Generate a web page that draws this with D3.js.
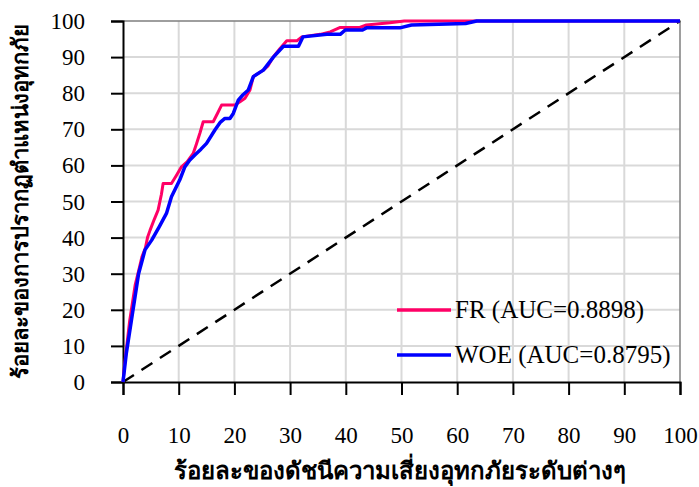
<!DOCTYPE html>
<html lang="th">
<head>
<meta charset="UTF-8">
<title>ROC</title>
<script src="https://d3js.org/d3.v7.min.js"></script>
<style>
  body { margin: 0; background: #fff; }
  svg { display: block; font-family: "Liberation Serif", "Times New Roman", serif; }
</style>
</head>
<body>
<svg id="chart" width="699" height="487"></svg>
<script>
// chart values
const ticks = [0, 10, 20, 30, 40, 50, 60, 70, 80, 90, 100];
const frX = [0, 0.3, 1.2, 2.2, 3.0, 3.4, 4.0, 4.4, 4.85, 5.6, 6.3, 6.9, 7.2, 8.7, 9.5, 10.5, 11.5, 12.6, 13.2, 13.8, 14.4, 16.2, 17.0, 17.7, 20.1, 21.0, 21.9, 22.8, 23.4, 25.2, 26, 27, 28.2, 29.4, 31.2, 32.1, 35.4, 37.2, 39, 42.5, 43.7, 47.9, 50.5, 100];
const frY = [0, 5, 17, 27, 32, 34.7, 37, 40, 42, 45, 47.6, 52, 55, 55, 57, 59.6, 61, 63.3, 66, 68.9, 72.1, 72.1, 74.5, 76.7, 76.7, 77.6, 78.6, 80.9, 84.6, 86.4, 87.5, 90.1, 92.4, 94.5, 94.5, 95.6, 96.3, 97, 98.2, 98.2, 98.9, 99.5, 100, 100];
const woeX = [0, 0.6, 1.5, 2.8, 3.5, 3.95, 5.15, 6.5, 7.8, 8.7, 10.2, 11.1, 12.0, 12.9, 14, 15.0, 16.5, 17.5, 18.3, 19.2, 19.8, 20.7, 21.5, 22.5, 23.4, 25.2, 27, 28.8, 31.5, 32.3, 36.6, 39, 39.9, 43, 43.7, 49.7, 51.8, 61.5, 63.5, 100];
const woeY = [0, 8, 17, 30, 34, 36.6, 39.3, 43, 46.7, 51.3, 56, 59.6, 61.5, 62.9, 64.5, 66.1, 69.8, 72, 73, 73, 74.4, 78.1, 79.5, 80.9, 84.6, 86.4, 90, 93, 93, 95.6, 96.3, 96.3, 97.5, 97.5, 98.1, 98.1, 98.9, 99.3, 100, 100];
const seriesNames = ["FR (AUC=0.8898)", "WOE (AUC=0.8795)"];
const seriesColors = ["#ff0066", "#0000ff"];
const xTitle = "ร้อยละของดัชนีความเสี่ยงอุทกภัยระดับต่างๆ";
const yTitle = "ร้อยละของการปรากฏตำแหน่งอุทกภัย";

const svg = d3.select("#chart");
const plotL = 123, plotR = 680, plotT = 21, plotB = 382;

const x = d3.scaleLinear().domain([0, 100]).range([plotL, plotR]);
const y = d3.scaleLinear().domain([0, 100]).range([plotB, plotT]);

// gridlines
svg.append("g")
  .selectAll("line")
  .data(ticks.slice(1, -1))
  .join("line")
  .attr("x1", d => x(d)).attr("x2", d => x(d))
  .attr("y1", plotT).attr("y2", plotB)
  .attr("stroke", "#d9d9d9").attr("stroke-width", 2);
svg.append("g")
  .selectAll("line")
  .data(ticks.slice(1, -1))
  .join("line")
  .attr("y1", d => y(d)).attr("y2", d => y(d))
  .attr("x1", plotL).attr("x2", plotR)
  .attr("stroke", "#d9d9d9").attr("stroke-width", 2);

// frame top and right
svg.append("path")
  .attr("d", `M${plotL},${plotT}H${plotR}V${plotB}`)
  .attr("fill", "none").attr("stroke", "#7f7f7f").attr("stroke-width", 1.5);

// axes
const xAxis = svg.append("g")
  .attr("transform", `translate(0,${plotB})`)
  .call(d3.axisBottom(x).tickValues(ticks).tickSize(13).tickPadding(32));
const yAxis = svg.append("g")
  .attr("transform", `translate(${plotL},0)`)
  .call(d3.axisLeft(y).tickValues(ticks).tickSize(12).tickPadding(26));
[xAxis, yAxis].forEach(a => {
  a.select(".domain").attr("stroke", "#000").attr("stroke-width", 2);
  a.selectAll(".tick line").attr("stroke", "#000").attr("stroke-width", 2);
  a.selectAll(".tick text")
    .attr("font-family", "Liberation Serif, serif")
    .attr("font-size", 23).attr("fill", "#000");
});
yAxis.selectAll(".tick text").attr("dy", "0.33em");

// reference diagonal
svg.append("line")
  .attr("x1", x(0)).attr("y1", y(0))
  .attr("x2", x(100)).attr("y2", y(100))
  .attr("stroke", "#000").attr("stroke-width", 2.5)
  .attr("stroke-dasharray", "13,9");

// curves
const line = d3.line().x(d => x(d[0])).y(d => y(d[1]));
const series = [d3.zip(frX, frY), d3.zip(woeX, woeY)];
svg.append("g")
  .selectAll("path")
  .data(series)
  .join("path")
  .attr("d", line)
  .attr("fill", "none")
  .attr("stroke", (_, i) => seriesColors[i])
  .attr("stroke-width", (_, i) => i === 0 ? 3 : 3.5)
  .attr("stroke-linejoin", "round");

// legend
const legend = svg.append("g")
  .selectAll("g")
  .data(seriesNames)
  .join("g")
  .attr("transform", (_, i) => `translate(397,${310 + i * 45})`);
legend.append("line")
  .attr("x1", 0).attr("x2", 54)
  .attr("stroke", (_, i) => seriesColors[i])
  .attr("stroke-width", 3.5);
legend.append("text")
  .attr("x", 58).attr("dy", "0.33em")
  .attr("font-size", 25)
  .text(d => d);

// axis titles
svg.append("text")
  .attr("x", 400).attr("y", 479)
  .attr("text-anchor", "middle")
  .attr("font-size", 24).attr("font-weight", "bold")
  .text(xTitle);
svg.append("text")
  .attr("transform", "translate(28,201) rotate(-90)")
  .attr("text-anchor", "middle")
  .attr("font-size", 22).attr("font-weight", "bold")
  .text(yTitle);
</script>
</body>
</html>
